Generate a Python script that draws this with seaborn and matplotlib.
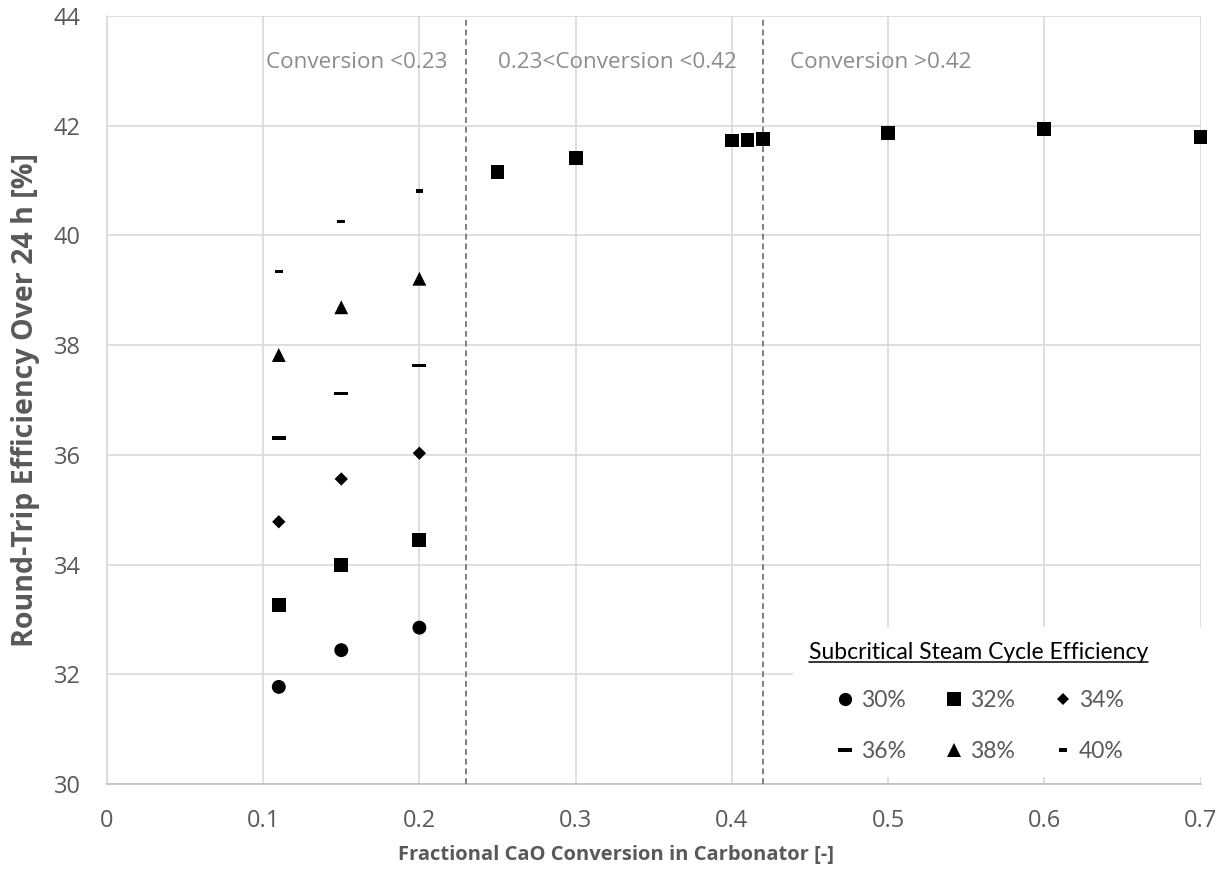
import numpy as np
import pandas as pd
import seaborn as sns
import matplotlib.pyplot as plt
from matplotlib.path import Path
from matplotlib.lines import Line2D
from matplotlib.patches import Rectangle

# Fractional CaO conversion points
conv_low = [0.11, 0.15, 0.20]
conv_high = [0.25, 0.30, 0.40, 0.41, 0.42, 0.50, 0.60, 0.70]

# Round-trip efficiency [%] per subcritical steam cycle efficiency
eff_30 = [31.77, 32.44, 32.85]
eff_32 = [33.26, 33.99, 34.45]
eff_32_high = [41.16, 41.41, 41.73, 41.74, 41.76, 41.87, 41.94, 41.80]
eff_34 = [34.78, 35.56, 36.03]
eff_36 = [36.31, 37.12, 37.63]
eff_38 = [37.82, 38.69, 39.21]
eff_40 = [39.34, 40.25, 40.81]

series_labels = ["30%", "32%", "34%", "36%", "38%", "40%"]
x_ticks = [0, 0.1, 0.2, 0.3, 0.4, 0.5, 0.6, 0.7]
y_ticks = [30, 32, 34, 36, 38, 40, 42, 44]
boundaries = [0.23, 0.42]
region_labels = ["Conversion <0.23", "0.23<Conversion <0.42", "Conversion >0.42"]

rows = []
for lab, ys in zip(series_labels, [eff_30, eff_32, eff_34, eff_36, eff_38, eff_40]):
    for x, y in zip(conv_low, ys):
        rows.append((lab, x, y))
for x, y in zip(conv_high, eff_32_high):
    rows.append(("32%", x, y))
df = pd.DataFrame(rows, columns=["cycle", "conversion", "efficiency"])

sns.set_theme(style="white")
plt.rcParams["font.family"] = ["Open Sans", "DejaVu Sans"]

# Bar-shaped markers for the 36% and 40% series
wide_dash = Path([(-0.5, -0.12), (0.5, -0.12), (0.5, 0.12), (-0.5, 0.12), (-0.5, -0.12)],
                 [Path.MOVETO, Path.LINETO, Path.LINETO, Path.LINETO, Path.CLOSEPOLY])
short_dash = Path([(-0.5, -0.23), (0.5, -0.23), (0.5, 0.23), (-0.5, 0.23), (-0.5, -0.23)],
                  [Path.MOVETO, Path.LINETO, Path.LINETO, Path.LINETO, Path.CLOSEPOLY])

markers = {"30%": "o", "32%": "s", "34%": "D", "36%": wide_dash, "38%": "^", "40%": short_dash}
sizes = {"30%": 100, "32%": 100, "34%": 46, "36%": 100, "38%": 100, "40%": 30}

fig = plt.figure(figsize=(12.25, 8.82), dpi=100)
ax = fig.add_axes([0.0873, 0.1111, 0.8927, 0.8708])

sns.scatterplot(data=df, x="conversion", y="efficiency", style="cycle", size="cycle",
                markers=markers, sizes=sizes, color="black", edgecolor="black",
                linewidth=0, legend=False, ax=ax, zorder=5, clip_on=False)

ax.set_xlim(0, 0.7)
ax.set_ylim(30, 44)
ax.set_xticks(x_ticks)
ax.set_xticklabels([f"{t:g}" for t in x_ticks])
ax.set_yticks(y_ticks)
ax.grid(True, color="#d9d9d9", linewidth=1.2)
ax.set_axisbelow(True)
for side in ["top", "right"]:
    ax.spines[side].set_visible(False)
ax.spines["left"].set_color("#d9d9d9")
ax.spines["bottom"].set_color("#bfbfbf")
ax.spines["left"].set_linewidth(1.2)
ax.spines["bottom"].set_linewidth(1.2)
ax.tick_params(axis="both", length=0, labelsize=17, labelcolor="#595959")
ax.tick_params(axis="x", pad=18)
ax.tick_params(axis="y", pad=19)

ax.set_xlabel("Fractional CaO Conversion in Carbonator [-]", fontsize=14.5,
              fontweight="bold", color="#595959", va="center")
ax.xaxis.set_label_coords(0.4657, -0.0924)
ax.set_ylabel("Round-Trip Efficiency Over 24 h [%]", fontsize=20.6,
              fontweight="bold", color="#595959", va="center")
ax.yaxis.set_label_coords(-0.0741, 0.5)

for b in boundaries:
    ax.axvline(b, color="#7f7f7f", linestyle=(0, (3, 2)), linewidth=1.4, zorder=3)

for xpos, txt in zip([0.1015, 0.2505, 0.4375], region_labels):
    ax.text(xpos, 43.15, txt, fontsize=16.2, color="#8c8c8c", ha="left", va="center")

# White panel behind the legend
ax.add_patch(Rectangle((0.6276, 0.0091), 0.3724, 0.1953, transform=ax.transAxes,
                       facecolor="white", edgecolor="none", zorder=8, clip_on=False))

# Legend entries laid out row by row (matplotlib fills columns first)
legend_order = ["30%", "36%", "32%", "38%", "34%", "40%"]
handles = [Line2D([], [], linestyle="none", marker=markers[l], color="black",
                  markeredgewidth=0, markersize=np.sqrt(sizes[l]) * 0.95, label=l)
           for l in legend_order]
leg = ax.legend(handles=handles, ncol=3, loc="center", bbox_to_anchor=(0.797, 0.107),
                frameon=False, title="Subcritical Steam Cycle Efficiency",
                prop={"family": ["Lato", "DejaVu Sans"], "size": 16.5},
                handletextpad=0.2, columnspacing=1.6, handlelength=1.0,
                labelspacing=1.3, borderpad=0.0)
leg.get_title().set_fontfamily(["Lato", "DejaVu Sans"])
leg.get_title().set_fontsize(16.5)
leg.get_title().set_color("black")
leg._legend_box.sep = 20
for t in leg.get_texts():
    t.set_color("#595959")
leg.set_zorder(10)

# Underline the legend title
fig.canvas.draw()
bb = leg.get_title().get_window_extent().transformed(fig.transFigure.inverted())
fig.add_artist(Line2D([bb.x0, bb.x1], [bb.y0 + 0.001, bb.y0 + 0.001],
                      transform=fig.transFigure, color="black", linewidth=1.1, zorder=11))

fig.savefig("out.png", dpi=100)
